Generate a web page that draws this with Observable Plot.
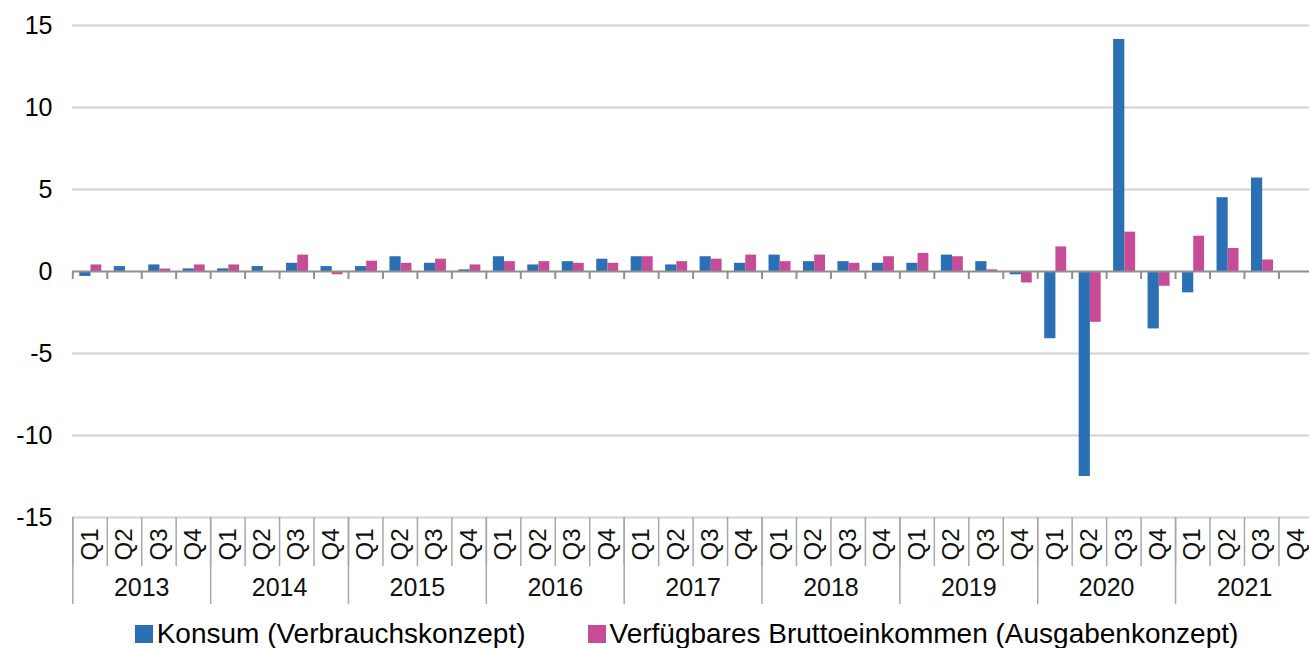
<!DOCTYPE html>
<html>
<head>
<meta charset="utf-8">
<script src="https://cdn.jsdelivr.net/npm/d3@7"></script>
<script src="https://cdn.jsdelivr.net/npm/@observablehq/plot@0.6"></script>
<style>
  body { margin: 0; background: #fff; font-family: "Liberation Sans", Arial, sans-serif; overflow: hidden; }
  #legend { display: flex; justify-content: center; align-items: center; gap: 62px; height: 30px; padding-top: 7px; padding-left: 64px; font-size: 28px; line-height: 30px; color: #000; }
  .item { display: flex; align-items: center; }
  .sw { display: inline-block; width: 18px; height: 18px; margin-right: 4px; }
</style>
</head>
<body>
<div id="chart"></div>
<div id="legend"></div>
<script>
const years = [2013, 2014, 2015, 2016, 2017, 2018, 2019, 2020, 2021];
const quarterLabels = ["Q1", "Q2", "Q3", "Q4"];
const seriesNames = ["Konsum (Verbrauchskonzept)", "Verfügbares Bruttoeinkommen (Ausgabenkonzept)"];
const seriesColors = ["#2B6FB5", "#C84B98"];
// Konsum, one value per quarter 2013Q1..2021Q4
const konsum = [
  -0.3, 0.3, 0.4, 0.16,
  0.16, 0.3, 0.5, 0.3,
  0.3, 0.9, 0.5, 0.1,
  0.9, 0.4, 0.6, 0.75,
  0.9, 0.4, 0.9, 0.5,
  1.0, 0.6, 0.6, 0.5,
  0.5, 1.0, 0.6, -0.2,
  -4.1, -12.5, 14.15, -3.5,
  -1.3, 4.5, 5.7, null
];
// Verfügbares Bruttoeinkommen
const einkommen = [
  0.4, 0, 0.15, 0.4,
  0.4, 0, 1.0, -0.2,
  0.63, 0.5, 0.75, 0.4,
  0.6, 0.6, 0.5, 0.5,
  0.9, 0.6, 0.75, 1.0,
  0.6, 1.0, 0.5, 0.9,
  1.1, 0.9, 0.1, -0.7,
  1.5, -3.1, 2.4, -0.9,
  2.15, 1.4, 0.7, null
];
const yTicks = [15, 10, 5, 0, -5, -10, -15];

const quarters = years.flatMap(y => quarterLabels.map(q => ({key: `${y}-${q}`, year: y, q})));
const keys = quarters.map(d => d.key);
const rows = quarters.map((d, i) => ({...d, konsum: konsum[i], einkommen: einkommen[i]}));
const yearRows = years.map(y => ({year: y, start: `${y}-Q1`, mid: `${y}-Q2`}));

const W = 1309;
const x0 = 72.3, x1 = 1312.9;
const bw = (x1 - x0) / keys.length;

const chart = Plot.plot({
  width: W,
  height: 612,
  marginLeft: 72,
  marginRight: 0,
  marginTop: 25,
  marginBottom: 95,
  style: {fontFamily: "'Liberation Sans', Arial, sans-serif", fontSize: "25px", color: "#000", background: "#fff"},
  x: {type: "band", domain: keys, range: [x0, x1], padding: 0, round: false, axis: null},
  y: {domain: [-15, 15], ticks: yTicks, tickSize: 0, tickPadding: 20, tickFormat: d => String(d), label: null},
  marks: [
    Plot.ruleY(yTicks.filter(t => t !== 0), {stroke: "#d2d2d2", strokeWidth: 2}),
    Plot.barY(rows.filter(d => d.konsum != null), {x: "key", y: "konsum", fill: seriesColors[0], insetLeft: 7, insetRight: bw - 18.2}),
    Plot.barY(rows.filter(d => d.einkommen != null), {x: "key", y: "einkommen", fill: seriesColors[1], insetLeft: 18.2, insetRight: bw - 29}),
    Plot.ruleY([0], {stroke: "#8f8f8f", strokeWidth: 2}),
    // small tick marks under the zero axis at quarter boundaries
    Plot.ruleX(keys, {x: d => d, dx: -bw / 2, y1: 0, y2: 0, insetBottom: -8, stroke: "#8f8f8f", strokeWidth: 2}),
    // category box: quarter separators
    Plot.ruleX(keys, {x: d => d, dx: -bw / 2, y1: -15, y2: -15, insetBottom: -49, stroke: "#a8a8a8", strokeWidth: 1.5}),
    // year separators
    Plot.ruleX(yearRows, {x: "start", dx: -bw / 2, y1: -15, y2: -15, insetBottom: -87, stroke: "#a8a8a8", strokeWidth: 1.5}),
    Plot.text(quarters, {x: "key", y: -15, text: "q", rotate: -90, dy: 27, fontSize: 24, fill: "#111"}),
    Plot.text(yearRows, {x: "mid", y: -15, text: d => String(d.year), dx: bw / 2, dy: 70, fontSize: 25, fill: "#111"})
  ]
});
document.getElementById("chart").appendChild(chart);
chart.style.display = "block";

const legend = document.getElementById("legend");
seriesNames.forEach((name, i) => {
  const item = document.createElement("div");
  item.className = "item";
  const sw = document.createElement("span");
  sw.className = "sw";
  sw.style.background = seriesColors[i];
  item.appendChild(sw);
  const t = document.createElement("span");
  t.textContent = name;
  item.appendChild(t);
  legend.appendChild(item);
});
</script>
</body>
</html>
